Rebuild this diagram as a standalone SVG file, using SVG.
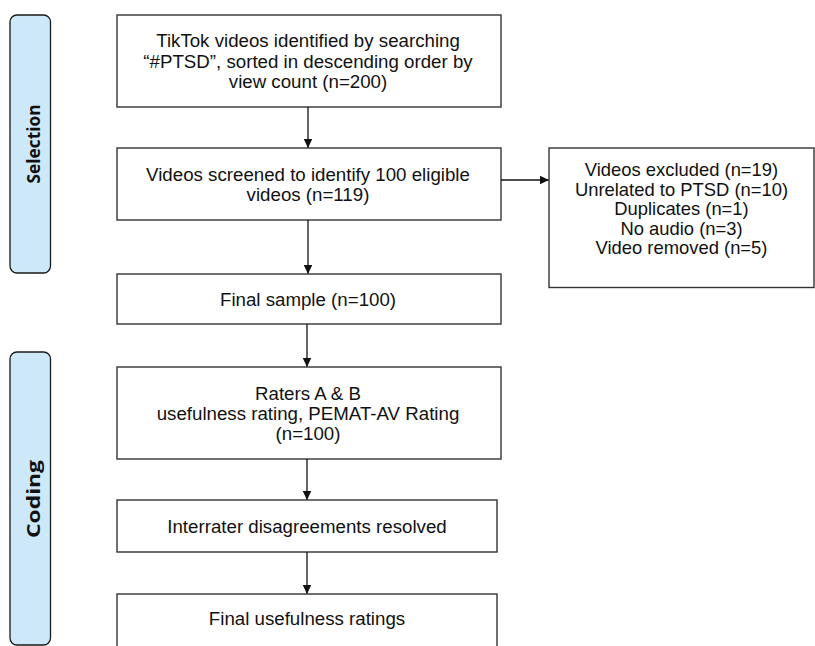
<svg xmlns="http://www.w3.org/2000/svg" width="815" height="646" viewBox="0 0 815 646">
<style>
.box{fill:#fff;stroke:#333;stroke-width:1.4}
.side{fill:#cde9f9;stroke:#1a1a1a;stroke-width:1.3}
.t{font-family:"Liberation Sans",Arial,sans-serif;font-size:18.7px;fill:#111;text-anchor:middle}
.r{font-size:18.4px}
.s{font-family:"Open Sans","Noto Sans",sans-serif;font-weight:bold;font-size:18px;fill:#111;text-anchor:middle}
.c{stroke:#111;stroke-width:1.3;fill:none}
</style>
<defs>
<marker id="ah" markerWidth="10" markerHeight="10" refX="9" refY="5" orient="auto" markerUnits="userSpaceOnUse">
<path d="M0,0.5 L9.5,5 L0,9.5 Z" fill="#111"/>
</marker>
</defs>
<rect width="815" height="646" fill="#fff"/>
<g id="selection">
<rect class="side" x="10" y="15" width="40.5" height="258" rx="7"/>
<text class="s" transform="translate(40,144) rotate(-90)" textLength="79" lengthAdjust="spacingAndGlyphs">Selection</text>
</g>
<g id="coding">
<rect class="side" x="10" y="352" width="40.5" height="293" rx="7"/>
<text class="s" transform="translate(40,499) rotate(-90)" textLength="78" lengthAdjust="spacingAndGlyphs">Coding</text>
</g>
<g id="n1">
<rect class="box" x="117" y="15" width="384" height="92"/>
<text class="t" x="308" y="47">TikTok videos identified by searching</text>
<text class="t" x="308" y="67.5">“#PTSD”, sorted in descending order by</text>
<text class="t" x="308" y="88">view count (n=200)</text>
</g>
<g id="n2">
<rect class="box" x="117" y="148" width="384" height="72"/>
<text class="t" x="308" y="180.5">Videos screened to identify 100 eligible</text>
<text class="t" x="308" y="201">videos (n=119)</text>
</g>
<g id="n3">
<rect class="box" x="549" y="148" width="265" height="139.5"/>
<text class="t r" x="681.5" y="176">Videos excluded (n=19)</text>
<text class="t r" x="681.5" y="195.5">Unrelated to PTSD (n=10)</text>
<text class="t r" x="681.5" y="215">Duplicates (n=1)</text>
<text class="t r" x="681.5" y="234.5">No audio (n=3)</text>
<text class="t r" x="681.5" y="254">Video removed (n=5)</text>
</g>
<g id="n4">
<rect class="box" x="117" y="274" width="384" height="50"/>
<text class="t" x="308" y="305.5">Final sample (n=100)</text>
</g>
<g id="n5">
<rect class="box" x="117" y="367" width="384" height="92"/>
<text class="t" x="308" y="399.5">Raters A &amp; B</text>
<text class="t" x="308" y="420">usefulness rating, PEMAT-AV Rating</text>
<text class="t" x="308" y="440">(n=100)</text>
</g>
<g id="n6">
<rect class="box" x="117" y="500" width="380" height="52"/>
<text class="t" x="307" y="532.5">Interrater disagreements resolved</text>
</g>
<g id="n7">
<rect class="box" x="117" y="594" width="380" height="80"/>
<text class="t" x="307" y="625">Final usefulness ratings</text>
</g>
<g id="connectors">
<line class="c" x1="308" y1="107" x2="308" y2="147.5" marker-end="url(#ah)"/>
<line class="c" x1="308" y1="220" x2="308" y2="273.5" marker-end="url(#ah)"/>
<line class="c" x1="501" y1="180" x2="548.5" y2="180" marker-end="url(#ah)"/>
<line class="c" x1="307" y1="324" x2="307" y2="366.5" marker-end="url(#ah)"/>
<line class="c" x1="307" y1="459" x2="307" y2="499.5" marker-end="url(#ah)"/>
<line class="c" x1="307" y1="552" x2="307" y2="593.5" marker-end="url(#ah)"/>
</g>
</svg>
